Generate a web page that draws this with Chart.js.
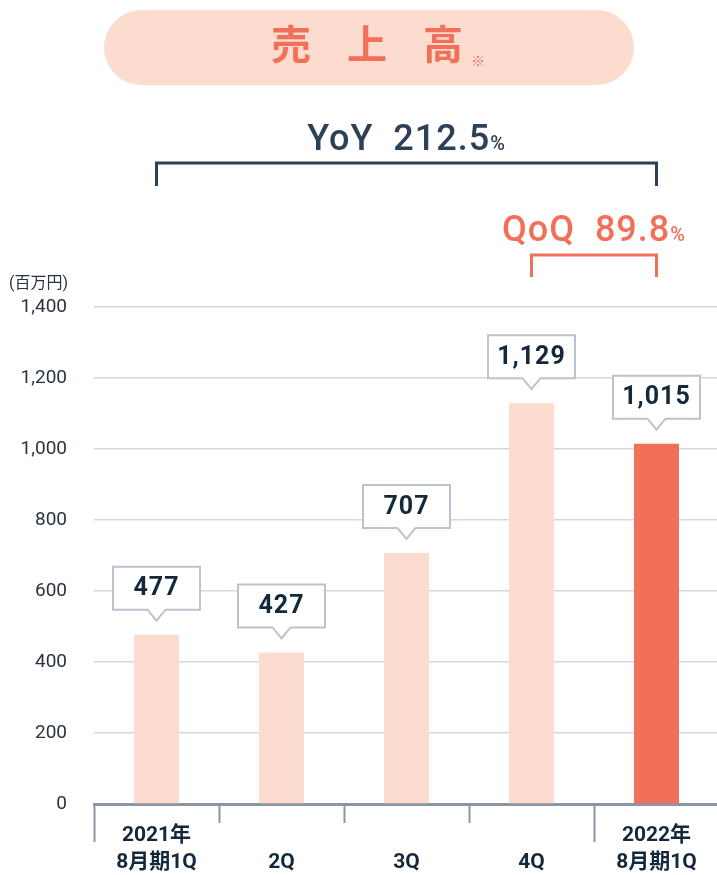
<!DOCTYPE html>
<html>
<head>
<meta charset="utf-8">
<script src="https://cdn.jsdelivr.net/npm/chart.js@4"></script>
<style>
  html, body { margin: 0; background: #fff; overflow: hidden; }
</style>
</head>
<body>
<canvas id="salesChart" width="719" height="875"></canvas>
<script>
const categories = [['2021年', '8月期1Q'], ['', '2Q'], ['', '3Q'], ['', '4Q'], ['2022年', '8月期1Q']];
const sales = [477, 427, 707, 1129, 1015];
const barColors = ['#fcdccf', '#fcdccf', '#fcdccf', '#fcdccf', '#f2705a'];
const yoy = '212.5';
const qoq = '89.8';

const FONT = 'Roboto, "Noto Sans CJK JP", sans-serif';
const NAVY = '#14283c';
const CORAL = '#f2705a';

function drawText(ctx, parts, cx, baseline, color) {
  // parts: [text, font] pairs, drawn centred as one run
  let total = 0;
  parts.forEach(p => { ctx.font = p[1]; total += ctx.measureText(p[0]).width; });
  let x = cx - total / 2;
  ctx.fillStyle = color;
  ctx.textAlign = 'left';
  ctx.textBaseline = 'alphabetic';
  parts.forEach(p => { ctx.font = p[1]; ctx.fillText(p[0], x, baseline); x += ctx.measureText(p[0]).width; });
}

function bracket(ctx, x1, x2, top, bottom, color) {
  ctx.beginPath();
  ctx.moveTo(x1, bottom);
  ctx.lineTo(x1, top);
  ctx.lineTo(x2, top);
  ctx.lineTo(x2, bottom);
  ctx.strokeStyle = color;
  ctx.lineWidth = 3;
  ctx.lineJoin = 'miter';
  ctx.stroke();
}

const decorations = {
  id: 'decorations',
  beforeDraw(chart) {
    const ctx = chart.ctx;
    ctx.save();
    // title pill
    ctx.beginPath();
    ctx.roundRect(104, 10, 530, 75, 37.5);
    ctx.fillStyle = '#fcdccf';
    ctx.fill();
    ctx.fillStyle = CORAL;
    ctx.font = 'bold 40px ' + FONT;
    ctx.textAlign = 'center';
    ctx.textBaseline = 'middle';
    ['売', '上', '高'].forEach((ch, i) => ctx.fillText(ch, 291 + i * 76, 49));
    ctx.font = '14px ' + FONT;
    ctx.fillText('※', 478, 62);
    // unit
    ctx.fillStyle = '#2a3440';
    ctx.font = '16px ' + FONT;
    ctx.textAlign = 'left';
    ctx.fillText('(百万円)', 9, 284);
    ctx.restore();
  },
  afterDraw(chart) {
    const ctx = chart.ctx;
    const x = chart.scales.x;
    const area = chart.chartArea;
    const bars = chart.getDatasetMeta(0).data;
    ctx.save();

    // category dividers below the axis
    const step = (area.right - area.left) / sales.length;
    ctx.strokeStyle = '#8c95a3';
    ctx.lineWidth = 2;
    for (let i = 0; i < sales.length; i++) {
      const px = Math.round(area.left + i * step) + 0.5;
      const long = i === 0 || i === sales.length - 1;
      ctx.beginPath();
      ctx.moveTo(px, area.bottom);
      ctx.lineTo(px, area.bottom + (long ? 38 : 19));
      ctx.stroke();
    }

    // value callouts
    bars.forEach((bar, i) => {
      const cx = bar.x;
      const tip = bar.y - 14;
      const bottom = tip - 11;
      const top = bottom - 43;
      const hw = 43.5;
      ctx.beginPath();
      ctx.moveTo(cx - hw, top);
      ctx.lineTo(cx + hw, top);
      ctx.lineTo(cx + hw, bottom);
      ctx.lineTo(cx + 9, bottom);
      ctx.lineTo(cx, tip);
      ctx.lineTo(cx - 9, bottom);
      ctx.lineTo(cx - hw, bottom);
      ctx.closePath();
      ctx.fillStyle = '#fff';
      ctx.fill();
      ctx.strokeStyle = '#bcc3cf';
      ctx.lineWidth = 2;
      ctx.stroke();
      ctx.fillStyle = NAVY;
      ctx.font = 'bold 25px ' + FONT;
      ctx.letterSpacing = '1px';
      ctx.textAlign = 'center';
      ctx.textBaseline = 'middle';
      ctx.fillText(sales[i].toLocaleString('en-US'), cx, (top + bottom) / 2 + 1);
      ctx.letterSpacing = '0px';
    });

    // YoY / QoQ brackets
    const first = x.getPixelForValue(0);
    const prev = x.getPixelForValue(sales.length - 2);
    const last = x.getPixelForValue(sales.length - 1);
    ctx.letterSpacing = '1px';
    bracket(ctx, first, last, 163, 186, '#2d4156');
    drawText(ctx, [['YoY  ' + yoy, '500 36px ' + FONT], ['%', '500 20px ' + FONT]], (first + last) / 2, 150, '#2d4156');
    bracket(ctx, prev, last, 255, 277, CORAL);
    drawText(ctx, [['QoQ  ' + qoq, '500 36px ' + FONT], ['%', '500 20px ' + FONT]], (prev + last) / 2, 241, CORAL);
    ctx.restore();
  }
};

new Chart(document.getElementById('salesChart').getContext('2d'), {
  type: 'bar',
  data: {
    labels: categories,
    datasets: [{
      label: '売上高',
      data: sales,
      backgroundColor: barColors,
      barPercentage: 0.36,
      categoryPercentage: 1
    }]
  },
  options: {
    responsive: false,
    animation: false,
    layout: { padding: { top: 307, right: 0, left: 0, bottom: 0 } },
    plugins: {
      legend: { display: false },
      tooltip: { enabled: false }
    },
    scales: {
      x: {
        grid: { display: false },
        border: { color: '#8c95a3', width: 3 },
        ticks: {
          color: NAVY,
          font: { family: FONT, size: 21, weight: 'bold', lineHeight: 1.3 },
          padding: 10,
          maxRotation: 0,
          autoSkip: false
        },
        afterFit: s => { s.height = 71; }
      },
      y: {
        min: 0,
        max: 1400,
        border: { display: false },
        grid: { color: '#d3d7de', lineWidth: 1.5, drawTicks: false },
        ticks: {
          stepSize: 200,
          color: '#2a3440',
          font: { family: FONT, size: 19 },
          padding: 27,
          callback: v => v.toLocaleString('en-US')
        },
        afterFit: s => { s.width = 94; }
      }
    }
  },
  plugins: [decorations]
});
</script>
</body>
</html>
